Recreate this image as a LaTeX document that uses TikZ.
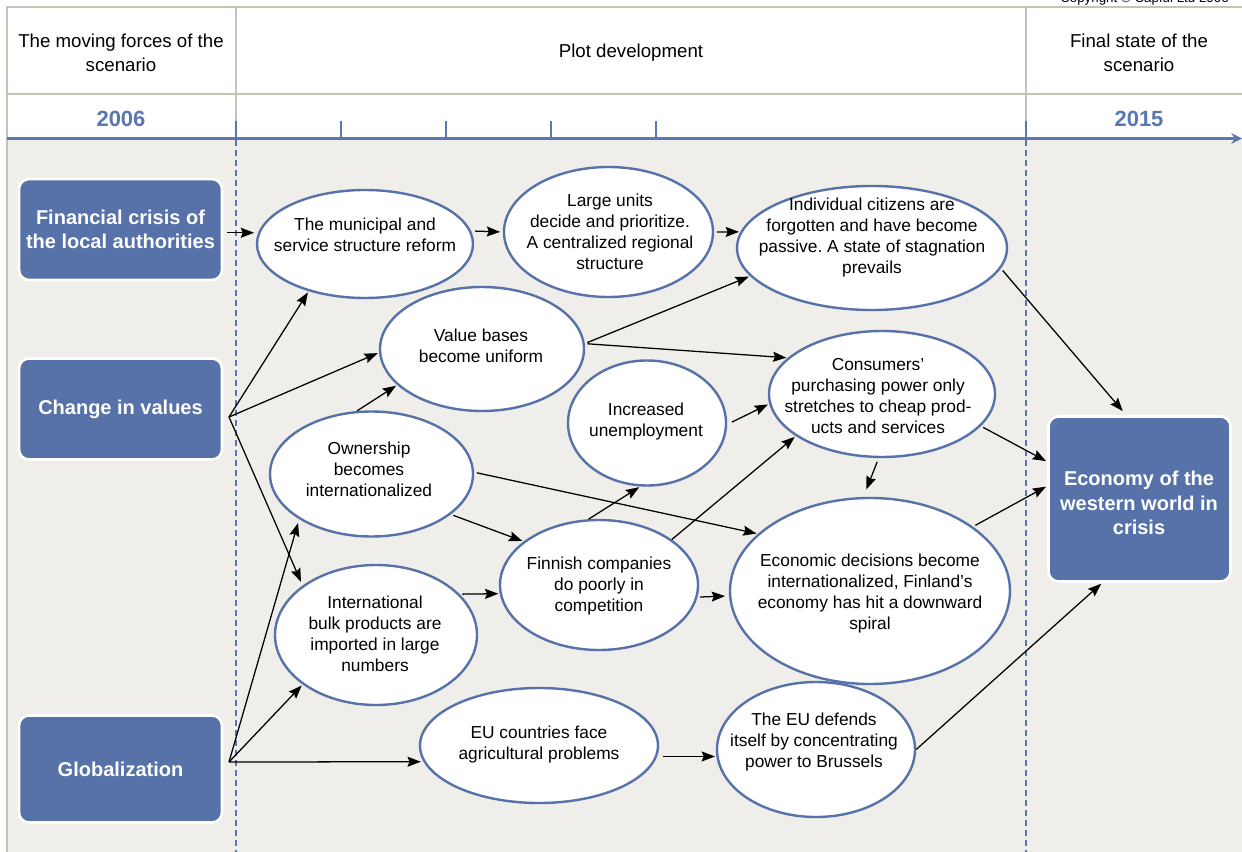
\documentclass[tikz,border=0pt]{standalone}
\usepackage{fontspec}
\setmainfont{Liberation Sans}
\usetikzlibrary{shapes.geometric,arrows.meta,calc}
\definecolor{boxblue}{HTML}{5672A8}
\definecolor{lineblue}{HTML}{5A78B0}
\definecolor{bggray}{HTML}{EFEEEA}
\definecolor{framegray}{HTML}{C8C3B8}
\frenchspacing
\begin{document}
\begin{tikzpicture}[x=0.75pt,y=-0.75pt,
  ell/.style n args={2}{ellipse, draw=boxblue, line width=1.8pt, fill=white, inner sep=0pt,
     minimum width=#1*0.75pt, minimum height=#2*0.75pt},
  txt/.style={align=center, font=\fontsize{13}{15.75}\selectfont, inner sep=0pt},
  hdr/.style={align=center, font=\fontsize{14}{18}\selectfont, inner sep=0pt},
  year/.style={font=\fontsize{16.5}{18}\selectfont\bfseries, text=lineblue, inner sep=0pt},
  bbox/.style={rectangle, rounded corners=7.5pt, fill=boxblue, draw=white, line width=2pt,
     minimum width=203*0.75pt, minimum height=101*0.75pt, text=white, align=center,
     font=\fontsize{15}{18.5}\selectfont\bfseries},
  btxt/.style={text=white, align=center, inner sep=0pt, font=\fontsize{15}{18.5}\selectfont\bfseries},
  arr/.style={line width=0.95pt, -{Stealth[length=10pt,width=7.5pt,inset=1.5pt]}, shorten <=2pt, shorten >=1pt},
]
\path[use as bounding box] (0,0) rectangle (1242,852);
\clip (0,0) rectangle (1242,852);
% backgrounds
\fill[white] (0,0) rectangle (1242,139);
\fill[bggray] (7,139) rectangle (1242,852);
% header frame
\draw[framegray, line width=1.2pt] (7,852) -- (7,7) -- (1242,7);
\draw[framegray, line width=1.2pt] (7,94) -- (1242,94);
\draw[framegray, line width=1.2pt] (236,7) -- (236,138);
\draw[framegray, line width=1.2pt] (1026,7) -- (1026,138);
% copyright (clipped at top, as in the original)
\node[anchor=base west, font=\fontsize{10}{12}\selectfont, inner sep=0pt] (copy) at (1060,3) {Copyright © Capful Ltd 2006};
% header texts
\node[hdr] (h1) at (121,53) {The moving forces of the\\scenario};
\node[hdr] (h2) at (631,53) {Plot development};
\node[hdr] (h3) at (1139,53) {Final state of the\\scenario};
\node[year] (y1) at (121,119) {2006};
\node[year] (y2) at (1139,119) {2015};
% time axis
\foreach \x in {236,341,446,551,656,1026}
  \draw[lineblue, line width=1.1pt] (\x,121) -- (\x,138);
\draw[lineblue, line width=1.6pt, -{Stealth[length=8pt,width=8pt]}] (7,138.5) -- (1242,138.5);
% dashed period lines
\draw[lineblue, line width=0.9pt, dash pattern=on 4.5pt off 3pt] (236,140) -- (236,852);
\draw[lineblue, line width=0.9pt, dash pattern=on 4.5pt off 3pt] (1026,140) -- (1026,852);

% driver boxes
\node[bbox] (fin) at (120.5,229.5) {Financial crisis of\\the local authorities};
\node[bbox] (chg) at (120.5,409) {Change in values};
\node[bbox, minimum height=107*0.75pt] (glob) at (120.5,769) {Globalization};
\node[bbox, minimum width=182*0.75pt, minimum height=165*0.75pt] (ecobox) at (1139.5,499) {};
\node[btxt] (ecobox-t) at (1139,503) {Economy of the\\western world in\\crisis};
\coordinate (c1) at (229,417);
\coordinate (c2) at (229,762);

% ellipses
\node[ell={216}{108}] (mun) at (365,244) {};
\node[ell={209}{130}] (large) at (608.5,232) {};
\node[ell={270}{124}] (indiv) at (872,248) {};
\node[ell={204}{124}] (value) at (482,349) {};
\node[ell={226}{126}] (cons) at (882,394) {};
\node[ell={158}{125}] (unemp) at (647,423) {};
\node[ell={203}{125}] (own) at (371.5,474) {};
\node[ell={198}{130}] (finn) at (599,585) {};
\node[ell={280}{186}] (econ) at (870,591) {};
\node[ell={202}{140}] (bulk) at (376,635) {};
\node[ell={238}{115}] (euc) at (539,745.5) {};
\node[ell={198}{135}] (eud) at (816,749.5) {};

% ellipse texts
\node[txt] (mun-t) at (365,235) {The municipal and\\service structure reform};
\node[txt] (large-t) at (610,232) {Large units\\decide and prioritize.\\A centralized regional\\structure};
\node[txt] (indiv-t) at (872,238) {Individual citizens are\\forgotten and have become\\passive. A state of stagnation\\prevails};
\node[txt] (value-t) at (481,346) {Value bases\\become uniform};
\node[txt] (cons-t) at (878,396) {Consumers’\\purchasing power only\\stretches to cheap prod-\\ucts and services};
\node[txt] (unemp-t) at (646,422) {Increased\\unemployment};
\node[txt] (own-t) at (369,469) {Ownership\\becomes\\internationalized};
\node[txt] (finn-t) at (599,586) {Finnish companies\\do poorly in\\competition};
\node[txt] (econ-t) at (870,594) {Economic decisions become\\internationalized, Finland’s\\economy has hit a downward\\spiral};
\node[txt] (bulk-t) at (375,634) {International\\bulk products are\\imported in large\\numbers};
\node[txt] (euc-t) at (539,745) {EU countries face\\agricultural problems};
\node[txt] (eud-t) at (814,742) {The EU defends\\itself by concentrating\\power to Brussels};

% connectors
\draw[arr, shorten <=3pt, shorten >=3pt] (fin.east |- mun.174) -- (mun.174);
\draw[arr, shorten <=3pt, shorten >=2pt] (mun.7) -- (large.180);
\draw[arr] (large.east) -- (indiv.173);
\draw[arr, shorten <=0pt] (c1) -- (mun.220);
\draw[arr, shorten <=0pt] (c1) -- (value.182);
\draw[arr, shorten <=0pt, shorten >=3pt] (c1) -- (bulk.146);
\draw[arr, shorten <=0pt] (own.103) -- (value.203);
\draw[arr] (value.3) -- (indiv.193);
\draw[arr] (value.3) -- (cons.159);
\draw[arr, shorten <=4pt] (unemp.-1) -- (cons.185);
\draw[arr] (own.1) -- (econ.153);
\draw[arr] (own.-27) -- (finn.150);
\draw[arr] (bulk.26) -- (finn.185);
\draw[arr, shorten <=0pt] (finn.99) -- (unemp.264);
\draw[arr, shorten <=0pt] (finn.32) -- (cons.206);
\draw[arr, shorten >=3pt] (finn.-7) -- (econ.182);
\draw[arr, shorten <=3pt, shorten >=6pt] (cons.267) -- (econ.94);
\draw[arr] (cons.-18) -- (ecobox.158);
\draw[arr] (econ.32) -- (ecobox.172);
\draw[arr, shorten >=4pt] (indiv.-9) -- (ecobox.99);
\draw[arr, shorten <=0pt] (eud.0) -- (ecobox.246);
\draw[arr, shorten <=4pt] (euc.-5 |- eud.184) -- (eud.184);
\draw[arr, shorten <=0pt, shorten >=3pt] (c2) -- (own.212);
\draw[arr, shorten <=0pt] (c2) -- (bulk.214);
\draw[arr, shorten <=0pt, shorten >=2pt] (c2) -- (euc.188);
\end{tikzpicture}
\end{document}
